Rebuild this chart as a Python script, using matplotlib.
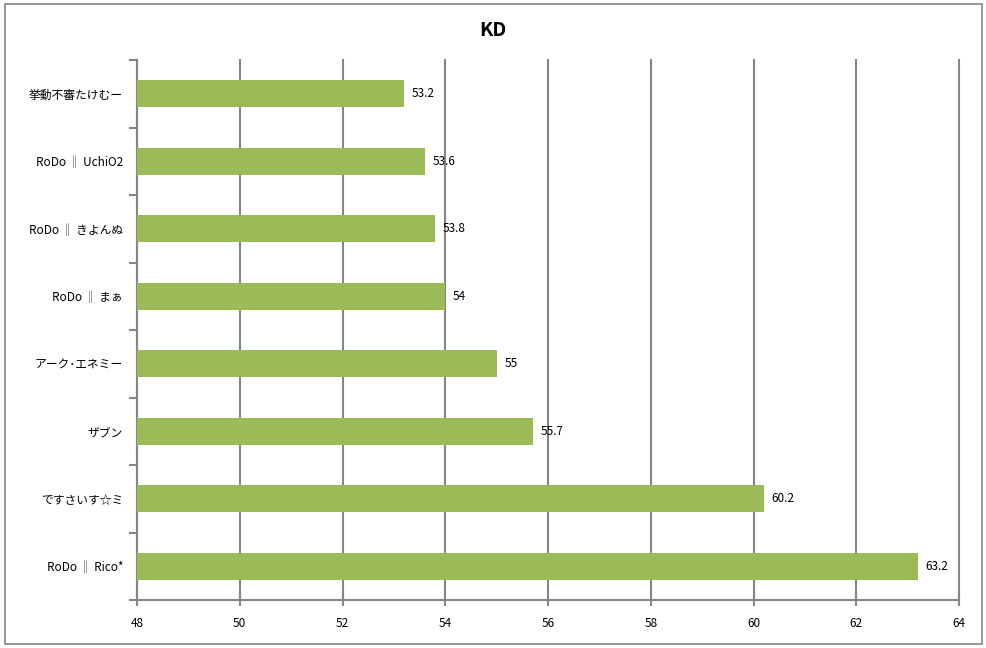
import matplotlib
matplotlib.use("Agg")
import matplotlib.pyplot as plt
from matplotlib.patches import Rectangle

plt.rcParams['font.family'] = ['Noto Sans CJK JP', 'DejaVu Sans']

players = ["挙動不審たけむー", "RoDo ‖ UchiO2", "RoDo ‖ きよんぬ", "RoDo ‖ まぁ",
           "アーク･エネミー", "ザブン", "ですさいす☆ミ", "RoDo ‖ Rico*"]
kd = [53.2, 53.6, 53.8, 54, 55, 55.7, 60.2, 63.2]
kd_labels = ["53.2", "53.6", "53.8", "54", "55", "55.7", "60.2", "63.2"]
x_ticks = [48, 50, 52, 54, 56, 58, 60, 62, 64]

grey = "#868686"

fig = plt.figure(figsize=(9.87, 6.48), dpi=100)
fig.patches.append(Rectangle((5 / 987, 4 / 648), 977 / 987, 640 / 648,
                             transform=fig.transFigure, fill=False,
                             edgecolor=grey, linewidth=1.2))

ax = fig.add_axes([137 / 987, 1 - 600 / 648, 822 / 987, 540 / 648])

pos = list(range(len(players)))
ax.barh(pos, [v - 48 for v in kd], left=48, height=0.4, color="#9BBB59", zorder=3)
for p, v, lab in zip(pos, kd, kd_labels):
    ax.text(v + 0.15, p, lab, va="center", ha="left", fontsize=8.5, zorder=4)

ax.set_xlim(48, 64)
ax.set_ylim(len(players) - 0.5, -0.5)
ax.set_xticks(x_ticks)
ax.set_xticklabels([str(t) for t in x_ticks], fontsize=8.5)
ax.tick_params(axis="x", direction="inout", length=8, width=1.5, color=grey, pad=8)

ax.set_yticks([p + 0.5 for p in range(-1, len(players))])
ax.set_yticklabels([])
ax.set_yticks(pos, minor=True)
ax.set_yticklabels(players, minor=True, fontsize=8.5)
ax.tick_params(axis="y", which="major", direction="out", length=6, width=1.5, color=grey)
ax.tick_params(axis="y", which="minor", length=0, pad=10)

ax.grid(axis="x", color=grey, linewidth=1.5, zorder=0)
for gl in ax.get_xgridlines():
    gl.set_clip_on(False)
for s in ["top", "right"]:
    ax.spines[s].set_visible(False)
for s in ["left", "bottom"]:
    ax.spines[s].set_color(grey)
    ax.spines[s].set_linewidth(1.5)

fig.text(493 / 987, 1 - 31 / 648, "KD", ha="center", va="center",
         fontsize=14, fontweight="bold")

fig.savefig("out.png", dpi=100)
